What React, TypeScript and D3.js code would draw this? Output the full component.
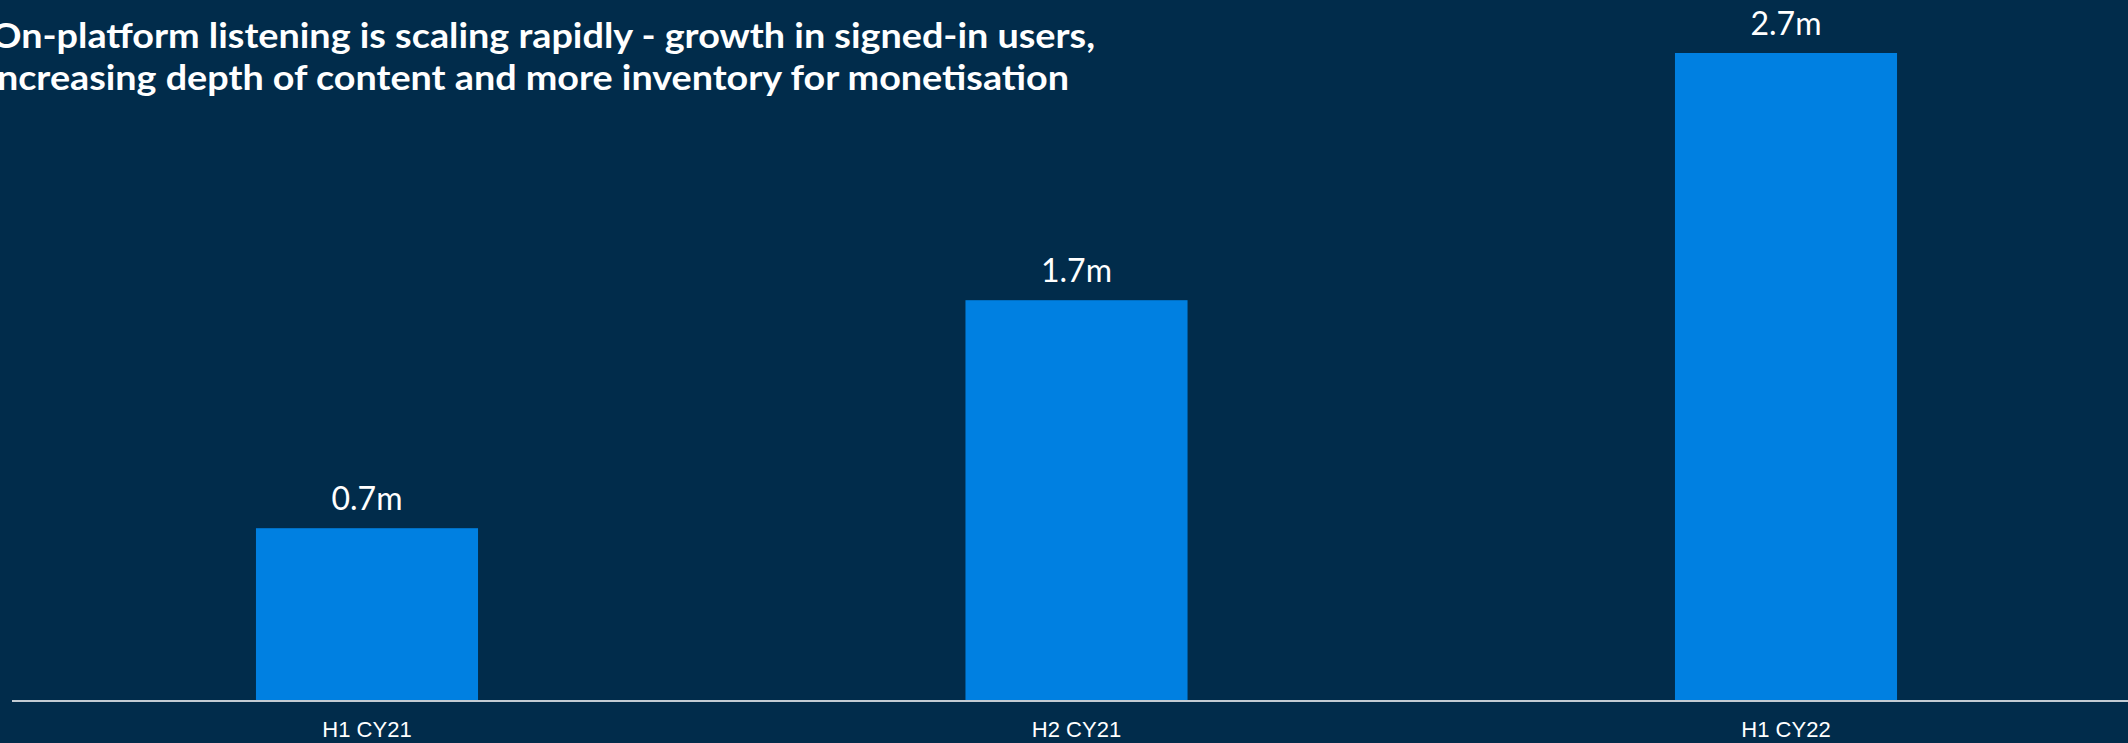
import React from "react";
import * as d3 from "d3";

const categories = ["H1 CY21", "H2 CY21", "H1 CY22"];
const values = [0.72, 1.67, 2.7];
const valueLabels = ["0.7m", "1.7m", "2.7m"];
const titleLines = [
  "On-platform listening is scaling rapidly - growth in signed-in users,",
  "Increasing depth of content and more inventory for monetisation",
];

const W = 2128;
const H = 743;
const BG = "#012c4b";
const BAR = "#0080e1";

export default function App() {
  const x = d3
    .scaleBand<string>()
    .domain(categories)
    .range([12.25, 2140.75])
    .paddingInner(0.687)
    .paddingOuter(0.3435);
  const y = d3.scaleLinear().domain([0, 2.7]).range([701, 53]);

  return (
    <svg
      width={W}
      height={H}
      style={{ position: "fixed", left: 0, top: 0, display: "block" }}
    >
      <rect x={0} y={0} width={W} height={H} fill={BG} />
      <g fontFamily="Lato, 'Open Sans', sans-serif" fontWeight={700} fill="#ffffff" fontSize={35}>
        <text x={-9} y={48} textLength={1104} lengthAdjust="spacingAndGlyphs">
          {titleLines[0]}
        </text>
        <text x={-14} y={90} textLength={1083} lengthAdjust="spacingAndGlyphs">
          {titleLines[1]}
        </text>
      </g>
      {categories.map((c, i) => (
        <g key={c}>
          <rect
            x={x(c)}
            y={y(values[i])}
            width={x.bandwidth()}
            height={y(0) - y(values[i])}
            fill={BAR}
          />
          <text
            x={(x(c) as number) + x.bandwidth() / 2}
            y={y(values[i]) - 18}
            textAnchor="middle"
            fontFamily="Lato, 'Open Sans', sans-serif"
            fontSize={32}
            fill="#ffffff"
          >
            {valueLabels[i]}
          </text>
          <text
            x={(x(c) as number) + x.bandwidth() / 2}
            y={737}
            textAnchor="middle"
            fontFamily="'Liberation Sans', Arial, sans-serif"
            fontSize={22}
            fill="#ffffff"
          >
            {c}
          </text>
        </g>
      ))}
      <line x1={12} x2={W} y1={701} y2={701} stroke="#c3ccd4" strokeWidth={2} />
    </svg>
  );
}
